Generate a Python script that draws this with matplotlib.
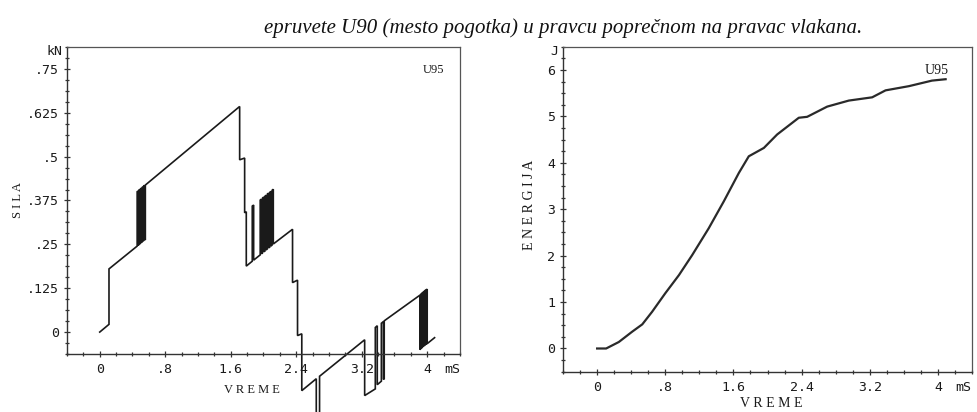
import matplotlib
matplotlib.use("Agg")
import matplotlib.pyplot as plt
from matplotlib.ticker import MultipleLocator, FixedLocator, FixedFormatter

# --- force trace (time in ms, force in kN), vertices of the recorded plot ---
force_t = [
    0.000, 0.113, 0.113, 0.457,
    0.457, 0.467, 0.467, 0.477, 0.477, 0.487, 0.487, 0.497, 0.497, 0.507, 0.507,
    0.517, 0.517, 0.527, 0.527, 0.537, 0.537, 0.547, 0.547, 0.557, 0.557,
    1.709, 1.709, 1.770, 1.770, 1.790, 1.790,
    1.863, 1.863, 1.880, 1.880,
    1.960, 1.960, 1.975, 1.975, 1.989, 1.989, 2.004, 2.004, 2.018, 2.018, 2.033, 2.033,
    2.047, 2.047, 2.062, 2.062, 2.076, 2.076, 2.091, 2.091, 2.105, 2.105, 2.120, 2.120,
    2.355, 2.355, 2.416, 2.416, 2.468, 2.468,
    2.645, 2.645, 2.685, 2.685,
    3.236, 3.236, 3.366, 3.366, 3.390, 3.390, 3.440, 3.440, 3.465, 3.465, 3.475, 3.475,
    3.910, 3.910, 3.919, 3.919, 3.928, 3.928, 3.937, 3.937, 3.946, 3.946, 3.955, 3.955,
    3.964, 3.964, 3.973, 3.973, 3.982, 3.982, 3.991, 3.991, 4.000, 4.000,
    4.090,
]
force_kN = [
    0.000, 0.022, 0.180, 0.245,
    0.400, 0.402, 0.247, 0.249, 0.404, 0.406, 0.251, 0.253, 0.408, 0.410, 0.255,
    0.257, 0.412, 0.414, 0.259, 0.261, 0.416, 0.418, 0.263, 0.264, 0.419,
    0.643, 0.491, 0.496, 0.340, 0.343, 0.188,
    0.202, 0.359, 0.362, 0.205,
    0.220, 0.376, 0.379, 0.223, 0.226, 0.382, 0.385, 0.229, 0.231, 0.387, 0.390, 0.234,
    0.237, 0.393, 0.396, 0.240, 0.242, 0.398, 0.401, 0.245, 0.248, 0.404, 0.407, 0.251,
    0.293, 0.141, 0.148, -0.010, -0.005, -0.167,
    -0.133, -0.250, -0.250, -0.126,
    -0.022, -0.181, -0.162, 0.013, 0.018, -0.150, -0.140, 0.025, 0.030, -0.135, -0.133, 0.032,
    0.105, -0.050, -0.048, 0.107, 0.109, -0.046, -0.044, 0.111, 0.113, -0.042, -0.040, 0.115,
    0.116, -0.039, -0.037, 0.118, 0.120, -0.035, -0.034, 0.121, 0.122, -0.033,
    -0.016,
]

# --- absorbed energy (time in ms, energy in J) ---
energy_t = [0.0, 0.106, 0.255, 0.41, 0.53, 0.645, 0.80, 0.96, 1.115, 1.31, 1.487,
            1.663, 1.78, 1.957, 2.113, 2.367, 2.465, 2.70, 2.954, 3.228, 3.385,
            3.658, 3.93, 4.09]
energy_J = [0.0, 0.0, 0.14, 0.36, 0.52, 0.79, 1.19, 1.58, 2.01, 2.59, 3.17,
            3.78, 4.14, 4.32, 4.61, 4.97, 4.99, 5.21, 5.34, 5.41, 5.56,
            5.65, 5.77, 5.80]

# tick labels
time_ticks = [0, 0.8, 1.6, 2.4, 3.2, 4]
time_labels = ["0", ".8", "1.6", "2.4", "3.2", "4"]
force_ticks = [0, 0.125, 0.25, 0.375, 0.5, 0.625, 0.75]
force_labels = ["0", ".125", ".25", ".375", ".5", ".625", ".75"]
energy_ticks = [0, 1, 2, 3, 4, 5, 6]
energy_labels = ["0", "1", "2", "3", "4", "5", "6"]

title_text = "epruvete U90 (mesto pogotka) u pravcu poprečnom na pravac vlakana."
specimen = "U95"

INK = "#1a1a1a"
MONO = "DejaVu Sans Mono"
SERIF = "Liberation Serif"

fig = plt.figure(figsize=(9.78, 4.12), dpi=100)
fig.patch.set_facecolor("white")

ax1 = fig.add_axes([0.0685, 0.1408, 0.4018, 0.7451])
ax2 = fig.add_axes([0.5757, 0.0978, 0.4182, 0.7888])


def style_axes(ax, yticks, ylabels, yminor, ylim, unit):
    ax.set_xlim(-0.4, 4.4)
    ax.set_ylim(*ylim)
    for name, s in ax.spines.items():
        if name in ("top", "right"):
            s.set_color("#555555")
            s.set_linewidth(0.9)
        else:
            s.set_color("#333333")
            s.set_linewidth(1.0)
    ax.xaxis.set_major_locator(FixedLocator(time_ticks))
    ax.xaxis.set_major_formatter(FixedFormatter(time_labels))
    ax.xaxis.set_minor_locator(MultipleLocator(0.2))
    ax.yaxis.set_major_locator(FixedLocator(yticks))
    ax.yaxis.set_major_formatter(FixedFormatter(ylabels))
    ax.yaxis.set_minor_locator(MultipleLocator(yminor))
    ax.tick_params(which="both", direction="inout", color="#333333", width=0.9)
    ax.tick_params(which="major", length=5)
    ax.tick_params(which="minor", length=3.5)
    ax.tick_params(axis="x", pad=4)
    ax.tick_params(axis="y", pad=3)
    for lab in ax.get_xticklabels() + ax.get_yticklabels():
        lab.set_fontfamily(MONO)
        lab.set_fontsize(9.5)
        lab.set_color(INK)
    # time unit after the last time label
    ax.annotate("mS", xy=(4.3, 0), xycoords=("data", "axes fraction"),
                xytext=(0, -6.5), textcoords="offset points",
                ha="center", va="top", fontfamily=MONO, fontsize=9.5, color=INK)
    # value unit at the top of the vertical axis
    ax.annotate(unit, xy=(0, 1), xycoords="axes fraction",
                xytext=(-3.5, -3.5), textcoords="offset points",
                ha="right", va="center", fontfamily=MONO, fontsize=9.5, color=INK)


style_axes(ax1, force_ticks, force_labels, 0.03125, (-0.0625, 0.8125), "kN")
style_axes(ax2, energy_ticks, energy_labels, 0.25, (-0.5, 6.5), "J")

ax1.plot(force_t, force_kN, color=INK, lw=1.2, clip_on=False,
         solid_joinstyle="miter")
ax2.plot(energy_t, energy_J, color="#2a2a2a", lw=1.6, clip_on=False)

# axis titles in spaced serif capitals
ax1.text(-0.125, 0.50, "S I L A", transform=ax1.transAxes, rotation=90,
         ha="center", va="center", fontfamily=SERIF, fontsize=9, color=INK)
ax1.text(0.47, -0.118, "V R E M E", transform=ax1.transAxes,
         ha="center", va="center", fontfamily=SERIF, fontsize=9, color=INK)
ax2.text(-0.082, 0.513, "E N E R G I J A", transform=ax2.transAxes, rotation=90,
         ha="center", va="center", fontfamily=SERIF, fontsize=10, color=INK)
ax2.text(0.51, -0.098, "V R E M E", transform=ax2.transAxes,
         ha="center", va="center", fontfamily=SERIF, fontsize=10, color=INK)

# specimen labels
ax1.text(434 / 978, 1 - 70 / 412, specimen, transform=fig.transFigure,
         ha="center", va="center", fontfamily=SERIF, fontsize=9, color=INK)
ax2.text(937 / 978, 1 - 71 / 412, specimen, transform=fig.transFigure,
         ha="center", va="center", fontfamily=SERIF, fontsize=10, color=INK)

fig.text(0.5762, 1 - 28 / 412, title_text, ha="center", va="center",
         fontfamily=SERIF, fontstyle="italic", fontsize=15, color="#111111")

fig.savefig("out.png", dpi=100, facecolor="white")
